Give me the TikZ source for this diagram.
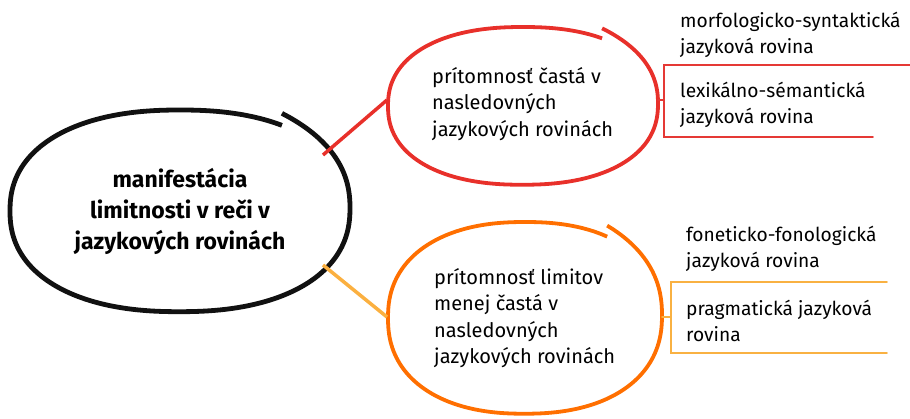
\documentclass[tikz,border=0pt]{standalone}
\usepackage{fontspec}
\setmainfont{Fira Sans}
\definecolor{mainblk}{HTML}{111111}
\definecolor{redc}{HTML}{E8302A}
\definecolor{redthin}{HTML}{E53935}
\definecolor{orgc}{HTML}{FF6F00}
\definecolor{orglink}{HTML}{FBB040}
\definecolor{orgthin}{HTML}{F9B142}
\begin{document}
\begin{tikzpicture}[x=1pt,y=-1pt,
  declare function={sc(\t)=cos(\t)*pow(abs(cos(\t)),-0.12); ss(\t)=sin(\t)*pow(abs(sin(\t)),-0.12);},
  blob/.style={line width=#1, line cap=butt, line join=round},
  link/.style={line width=3.5pt},
  bracket/.style={line width=1.6pt, line cap=round},
  maintext/.style={font=\fontsize{23}{31}\selectfont\bfseries, align=center, inner sep=0pt},
  midtext/.style={font=\fontsize{20}{26.5}\selectfont, align=left, inner sep=0pt, anchor=west},
  leaftext/.style={font=\fontsize{19.2}{26.5}\selectfont, align=left, inner sep=0pt, anchor=west}]
\useasboundingbox (0,0) rectangle (910,418);

% ellipses (hand-drawn look with a jog at the top right)
\draw[blob=4.8pt, mainblk] plot[domain=56:-304, samples=121, smooth]
  ({180+170*sc(\x)}, {211-101*ss(\x)-12*exp(-(56-\x)/40)});
\draw[blob=3.8pt, redc] plot[domain=57:-303, samples=121, smooth]
  ({523+135*sc(\x)}, {106-79*ss(\x)-10*exp(-(57-\x)/40)});
\draw[blob=3.8pt, orgc] plot[domain=56:-304, samples=121, smooth]
  ({525+137*sc(\x)}, {318-96*ss(\x)-11*exp(-(56-\x)/40)});

% texts
\node[maintext] (main) at (180,211) {manifestácia\\limitnosti v reči v\\jazykových rovinách};
\node[midtext] (often) at (432,104) {prítomnosť častá v\\nasledovných\\jazykových rovinách};
\node[midtext] (less) at (434,318) {prítomnosť limitov\\menej častá v\\nasledovných\\jazykových rovinách};
\node[leaftext] (morf) at (680,35) {morfologicko-syntaktická\\jazyková rovina};
\node[leaftext] (lex) at (680,105) {lexikálno-sémantická\\jazyková rovina};
\node[leaftext] (fon) at (686,249) {foneticko-fonologická\\jazyková rovina};
\node[leaftext] (prag) at (686,321) {pragmatická jazyková\\rovina};

% connector end points
\coordinate (mR) at (323,155);
\coordinate (rL) at (387,100);
\coordinate (mO) at (323,265);
\coordinate (oL) at (387,317);
\coordinate (rR) at (658,100);
\coordinate (rB) at (664,100);
\coordinate (oR) at (662,317);
\coordinate (oB) at (671,317);

\draw[link, redc] (mR) -- (rL);
\draw[link, orglink] (mO) -- (oL);

% red bracket
\draw[bracket, redthin] (rR) -- (rB);
\draw[bracket, redthin] (910,65) -- (664,65) -- (664,137) -- (873,137);
% orange bracket
\draw[bracket, orgthin] (oR) -- (oB);
\draw[bracket, orgthin] (887,282) -- (671,282) -- (671,353) -- (887,353);
\end{tikzpicture}
\end{document}
